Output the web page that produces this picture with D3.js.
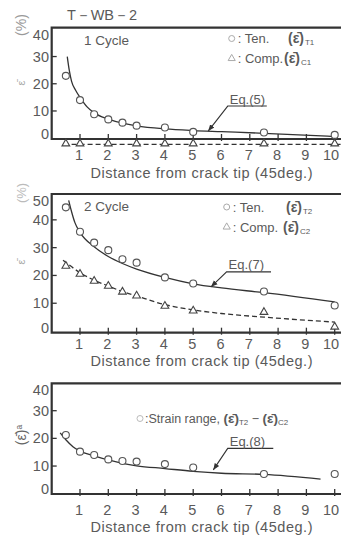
<!DOCTYPE html>
<html>
<head>
<meta charset="utf-8">
<script src="https://cdn.jsdelivr.net/npm/d3@7"></script>
<style>
  body { margin: 0; background: #fff; }
  svg { display: block; }
  text { font-family: "Liberation Sans", Arial, sans-serif; fill: #5a5a5a; }
</style>
</head>
<body>
<svg id="chart"></svg>
<script>
var W = 341, H = 540
var xTicks = [1, 2, 3, 4, 5, 6, 7, 8, 9, 10]

// 1 cycle
var ten1X = [0.5, 1, 1.5, 2, 2.5, 3, 4, 5, 7.5, 10]
var ten1Y = [22.9, 14.0, 8.8, 6.9, 5.7, 4.6, 3.9, 2.3, 2.1, 1.2]
var comp1X = [0.5, 1, 2, 3, 4, 5, 7.5, 10]
var comp1Y = [-2.0, -2.0, -2.0, -2.0, -2.0, -2.0, -2.0, -2.0]
var eq5X = [0.55, 0.62, 0.7, 0.85, 1, 1.25, 1.5, 2, 2.5, 3, 4, 5, 6, 7.5, 10]
var eq5Y = [30, 25, 21, 17.5, 15, 11.5, 9.3, 7, 5.5, 4.5, 3.4, 2.8, 2.4, 1.8, 0.6]
var comp1FitX = [0.42, 10.25]
var comp1FitY = [-2.3, -2.3]

// 2 cycle
var ten2X = [0.5, 1, 1.5, 2, 2.5, 3, 4, 5, 7.5, 10]
var ten2Y = [44.5, 35.7, 31.8, 29.1, 25.8, 24.6, 19.3, 17.1, 14.2, 9.2]
var comp2X = [0.5, 1, 1.5, 2, 2.5, 3, 4, 5, 7.5, 10]
var comp2Y = [23.4, 20.5, 18.0, 16.2, 14.1, 12.7, 9.0, 7.3, 6.8, 1.5]
var eq7X = [0.6, 0.7, 0.82, 1, 1.5, 2, 2.5, 3, 4, 5, 6, 7.5, 10]
var eq7Y = [47, 43, 39, 35.5, 30.3, 26.8, 24.3, 22.3, 19.3, 17, 15.5, 13.8, 10.5]
var comp2FitX = [0.4, 1, 1.5, 2, 2.5, 3, 4, 5, 6, 7.5, 10]
var comp2FitY = [25.5, 21, 18.3, 16.2, 14.2, 12.6, 9.5, 7.6, 6.3, 5, 3.2]

// strain range
var rangeX = [0.5, 1, 1.5, 2, 2.5, 3, 4, 5, 7.5, 10]
var rangeY = [21.2, 15.2, 14.0, 12.4, 11.8, 11.6, 10.7, 9.5, 7.1, 7.1]
var eq8X = [0.3, 0.5, 0.75, 1, 1.5, 2, 2.5, 3, 4, 5, 6, 7.5, 9.5]
var eq8Y = [22, 19.5, 17, 15.4, 13.7, 12.2, 11, 10.1, 9.1, 8.1, 7.4, 7, 5.3]

var yTicks1 = [0, 10, 20, 30, 40]
var yTicks2 = [0, 10, 20, 30, 40, 50]
var yTicks3 = [0, 10, 20, 30, 40]

function zip(xs, ys) { return xs.map(function (x, i) { return [x, ys[i]] }) }

var svg = d3.select('#chart').attr('width', W).attr('height', H)

svg.append('defs').append('marker')
  .attr('id', 'arrow').attr('viewBox', '0 0 10 10')
  .attr('refX', 10).attr('refY', 5)
  .attr('markerWidth', 6).attr('markerHeight', 6)
  .attr('orient', 'auto')
  .append('path').attr('d', 'M0,1L10,5L0,9Z').attr('fill', '#333')

var x = d3.scaleLinear().domain([0, 10.3]).range([51.7, 51.7 + 28.3 * 10.3])

svg.append('text').attr('x', 67).attr('y', 20).attr('font-size', 14.5)
  .attr('textLength', 70).text('T－WB－2')

function panel(cfg) {
  var y = d3.scaleLinear().domain(cfg.domain).range([cfg.bottom, cfg.top])
  var g = svg.append('g')
  var line = d3.line().x(function (d) { return x(d[0]) }).y(function (d) { return y(d[1]) })
    .curve(d3.curveMonotoneX)

  // frame
  g.append('path')
    .attr('d', 'M' + W + ',' + cfg.top + 'H' + x(0) + 'V' + cfg.bottom + 'H' + W)
    .attr('fill', 'none').attr('stroke', '#333').attr('stroke-width', 2.2)

  // x ticks
  g.selectAll('.xt').data(xTicks).enter().append('line')
    .attr('x1', x).attr('x2', x)
    .attr('y1', cfg.bottom - 5).attr('y2', cfg.bottom + 2)
    .attr('stroke', '#333').attr('stroke-width', 1.3)
  g.selectAll('.xl').data(xTicks).enter().append('text')
    .attr('x', function (d) { return Math.min(x(d) - 1, W - 10) })
    .attr('y', cfg.tickY).attr('text-anchor', 'middle')
    .attr('font-size', 14.5).text(function (d) { return d })
  g.append('text').attr('x', 201.5).attr('y', cfg.titleY).attr('text-anchor', 'middle')
    .attr('font-size', 14.5).attr('textLength', 222)
    .text('Distance from crack tip (45deg.)')

  // y ticks
  g.selectAll('.yt').data(cfg.yTicks.slice(1, -1)).enter().append('line')
    .attr('x1', x(0)).attr('x2', x(0) + 5)
    .attr('y1', y).attr('y2', y)
    .attr('stroke', '#333').attr('stroke-width', 1.3)
  g.selectAll('.yl').data(cfg.yTicks).enter().append('text')
    .attr('x', 49).attr('text-anchor', 'end').attr('font-size', 14.5)
    .attr('y', function (d) { return Math.min(Math.max(y(d), cfg.top + 7), cfg.bottom - 5) + 5 })
    .text(function (d) { return d })

  // fits
  cfg.fits.forEach(function (f) {
    g.append('path').datum(f.pts).attr('d', line)
      .attr('fill', 'none').attr('stroke', '#333').attr('stroke-width', 1.3)
      .attr('stroke-dasharray', f.dashed ? '5,3' : null)
  })

  // points
  cfg.circles.forEach(function (pts) {
    g.selectAll(null).data(pts).enter().append('circle')
      .attr('cx', function (d) { return x(d[0]) }).attr('cy', function (d) { return y(d[1]) })
      .attr('r', 3.5).attr('fill', '#fff').attr('stroke', '#555').attr('stroke-width', 1.1)
  })
  cfg.triangles.forEach(function (pts) {
    g.selectAll(null).data(pts).enter().append('path')
      .attr('d', d3.symbol().type(d3.symbolTriangle).size(26))
      .attr('transform', function (d) { return 'translate(' + x(d[0]) + ',' + y(d[1]) + ')' })
      .attr('fill', '#fff').attr('stroke', '#444').attr('stroke-width', 1.1)
  })

  // Eq annotation
  var e = cfg.eq
  g.append('path')
    .attr('d', 'M' + x(e.end) + ',' + y(e.elbow[1]) + 'H' + x(e.elbow[0]) + 'L' + x(e.tip[0]) + ',' + y(e.tip[1]))
    .attr('fill', 'none').attr('stroke', '#333').attr('stroke-width', 1.1)
    .attr('marker-end', 'url(#arrow)')
  g.append('text').attr('x', x(e.elbow[0]) + 2).attr('y', y(e.elbow[1]) - 2.5)
    .attr('font-size', 13).text(e.label)

  if (cfg.cycle) {
    g.append('text').attr('x', 84).attr('y', cfg.top + 17).attr('font-size', 13.5).text(cfg.cycle)
  }
  return y
}

function legendRow(mx, my, sym, label, labelEnd, sub) {
  var g = svg.append('g')
  if (sym === 'c') {
    g.append('circle').attr('cx', mx).attr('cy', my).attr('r', 3)
      .attr('fill', 'none').attr('stroke', '#aaa').attr('stroke-width', 1)
  } else {
    g.append('path').attr('d', d3.symbol().type(d3.symbolTriangle).size(22))
      .attr('transform', 'translate(' + mx + ',' + my + ')')
      .attr('fill', 'none').attr('stroke', '#aaa').attr('stroke-width', 1)
  }
  g.append('text').attr('x', mx + 6).attr('y', my + 4.5).attr('font-size', 13).text(label)
  var t = g.append('text').attr('x', labelEnd).attr('y', my + 4.5).attr('font-size', 14)
  t.append('tspan').attr('font-weight', 'bold').text('(ε̄)')
  t.append('tspan').attr('font-size', 8).attr('dx', 1).attr('dy', 2).text(sub)
}

panel({
  top: 27.7, bottom: 139, domain: [-0.3, 40.6], yTicks: yTicks1,
  tickY: 160, titleY: 178, cycle: '1 Cycle',
  fits: [{ pts: zip(eq5X, eq5Y) }, { pts: zip(comp1FitX, comp1FitY), dashed: true }],
  circles: [zip(ten1X, ten1Y)], triangles: [zip(comp1X, comp1Y)],
  eq: { label: 'Eq.(5)', tip: [5.53, 2.6], elbow: [6.22, 11.8], end: 7.6 }
})
legendRow(231.7, 38.5, 'c', ': Ten.', 288, 'T1')
legendRow(231.7, 58.5, 't', ': Comp.', 284, 'C1')

panel({
  top: 194, bottom: 332.7, domain: [-0.6, 49.3], yTicks: yTicks2,
  tickY: 348.5, titleY: 366, cycle: '2 Cycle',
  fits: [{ pts: zip(eq7X, eq7Y) }, { pts: zip(comp2FitX, comp2FitY), dashed: true }],
  circles: [zip(ten2X, ten2Y)], triangles: [zip(comp2X, comp2Y)],
  eq: { label: 'Eq.(7)', tip: [5.63, 15.9], elbow: [6.18, 21.3], end: 7.75 }
})
legendRow(226.7, 207, 'c', ': Ten.', 286, 'T2')
legendRow(226.7, 227, 't', ': Comp.', 283, 'C2')

panel({
  top: 383.3, bottom: 494, domain: [-0.1, 39.9], yTicks: yTicks3,
  tickY: 515, titleY: 531.5,
  fits: [{ pts: zip(eq8X, eq8Y) }],
  circles: [zip(rangeX, rangeY)], triangles: [],
  eq: { label: 'Eq.(8)', tip: [5.71, 8.6], elbow: [6.22, 16.4], end: 7.83 }
})
var lg = svg.append('g')
lg.append('circle').attr('cx', 140).attr('cy', 418.5).attr('r', 3)
  .attr('fill', 'none').attr('stroke', '#bbb')
var lt = lg.append('text').attr('x', 145).attr('y', 423).attr('font-size', 12.5)
lt.append('tspan').text(':Strain range, ')
lt.append('tspan').attr('font-weight', 'bold').attr('font-size', 13.5).text('(ε̄)')
lt.append('tspan').attr('font-size', 8).attr('dy', 2).text('T2')
lt.append('tspan').attr('dy', -2).text(' − ')
lt.append('tspan').attr('font-weight', 'bold').attr('font-size', 13.5).text('(ε̄)')
lt.append('tspan').attr('font-size', 8).attr('dy', 2).text('C2')

// y axis labels (rotated)
function vText(cx, cy, size, color, parts) {
  var t = svg.append('text').attr('transform', 'translate(' + cx + ',' + cy + ') rotate(-90)')
    .attr('text-anchor', 'middle').attr('font-size', size).attr('dy', '0.35em')
    .style('fill', color)
  parts.forEach(function (p) {
    var s = t.append('tspan').text(p.t)
    if (p.sub) s.attr('font-size', size * 0.6).attr('dy', '-0.5em')
  })
}
vText(21, 25, 14, '#999', [{ t: '(%)' }])
vText(21, 83, 11, '#aaa', [{ t: 'ε̄' }])
vText(21, 193, 13, '#bbb', [{ t: '(%)' }])
vText(21, 262, 11, '#aaa', [{ t: 'ε̄' }])
vText(21, 435, 14, '#666', [{ t: '(ε̄)' }, { t: 'a', sub: true }])
</script>
</body>
</html>
